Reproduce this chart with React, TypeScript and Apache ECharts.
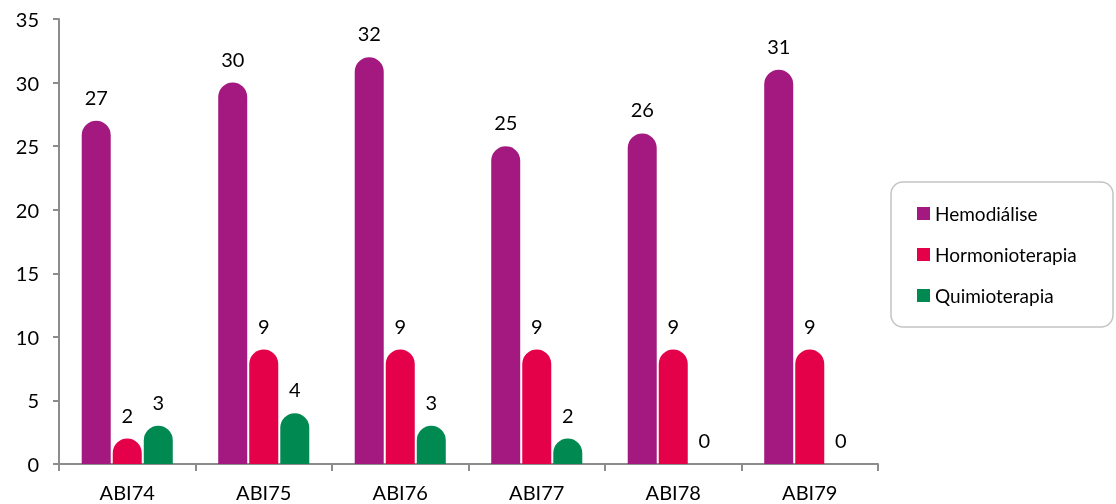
import React, { useEffect, useRef } from "react";
import * as echarts from "echarts";

const categories = ["ABI74", "ABI75", "ABI76", "ABI77", "ABI78", "ABI79"];
const hemodialise = [27, 30, 32, 25, 26, 31];
const hormonioterapia = [2, 9, 9, 9, 9, 9];
const quimioterapia = [3, 4, 3, 2, 0, 0];
const yTicks = { min: 0, max: 35, interval: 5 };

const FONT = "Lato, 'Open Sans', sans-serif";
const COLORS = ["#A3197F", "#E5004A", "#008A52"];

export default function App() {
  const ref = useRef<HTMLDivElement>(null);
  useEffect(() => {
    if (!ref.current) return;
    const chart = echarts.init(ref.current, undefined, { renderer: "svg" });
    const mk = (name: string, data: number[], color: string) => ({
      name,
      type: "bar",
      data,
      barWidth: 29,
      barGap: "7%",
      itemStyle: { color, borderRadius: [14.5, 14.5, 0, 0] },
      label: {
        show: true,
        position: "top",
        distance: 14,
        color: "#000",
        fontSize: 20,
        fontFamily: FONT,
      },
    });
    chart.setOption({
      animation: false,
      textStyle: { fontFamily: FONT },
      grid: { left: 59, right: 238, top: 19, bottom: 40, containLabel: false },
      legend: {
        orient: "vertical",
        left: 917,
        top: 204,
        itemWidth: 13,
        itemHeight: 13,
        itemGap: 22,
        icon: "rect",
        padding: 0,
        textStyle: { fontSize: 19, color: "#000", fontFamily: FONT },
        data: ["Hemodiálise", "Hormonioterapia", "Quimioterapia"],
      },
      graphic: [
        {
          type: "rect",
          shape: { x: 891, y: 182, width: 222, height: 145, r: 12 },
          style: { fill: "none", stroke: "#c4c4c4", lineWidth: 1.5 },
          silent: true,
        },
      ],
      xAxis: {
        type: "category",
        data: categories,
        axisLine: { show: true, lineStyle: { color: "#8c8c8c", width: 2 } },
        axisTick: { show: true, length: 7, alignWithLabel: false, lineStyle: { color: "#8c8c8c", width: 2 } },
        axisLabel: { color: "#000", fontSize: 20, margin: 18, fontFamily: FONT },
        splitLine: { show: false },
      },
      yAxis: {
        type: "value",
        min: yTicks.min,
        max: yTicks.max,
        interval: yTicks.interval,
        axisLine: { show: true, lineStyle: { color: "#8c8c8c", width: 2 } },
        axisTick: { show: true, length: 6, lineStyle: { color: "#8c8c8c", width: 2 } },
        axisLabel: { color: "#000", fontSize: 20, margin: 20, fontFamily: FONT },
        splitLine: { show: false },
      },
      series: [
        mk("Hemodiálise", hemodialise, COLORS[0]),
        mk("Hormonioterapia", hormonioterapia, COLORS[1]),
        mk("Quimioterapia", quimioterapia, COLORS[2]),
      ],
    });
    return () => chart.dispose();
  }, []);
  return (
    <div
      ref={ref}
      style={{ position: "fixed", left: 0, top: 0, width: 1116, height: 504 }}
    />
  );
}
